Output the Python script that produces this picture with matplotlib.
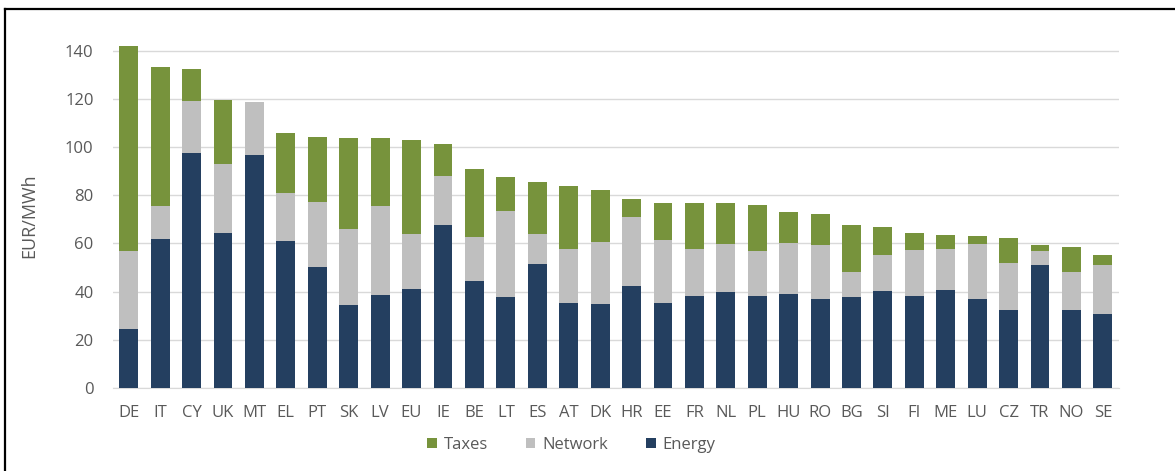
import numpy as np
import matplotlib
matplotlib.use("Agg")
import matplotlib.pyplot as plt
from matplotlib.lines import Line2D

plt.rcParams['font.family'] = ['Open Sans', 'DejaVu Sans']

# data (EUR/MWh)
countries = ["DE", "IT", "CY", "UK", "MT", "EL", "PT", "SK", "LV", "EU", "IE", "BE",
             "LT", "ES", "AT", "DK", "HR", "EE", "FR", "NL", "PL", "HU", "RO", "BG",
             "SI", "FI", "ME", "LU", "CZ", "TR", "NO", "SE"]
energy = [24.5, 61.9, 97.5, 64.4, 96.6, 61.0, 50.2, 34.4, 38.8, 41.3, 67.5, 44.4,
          37.9, 51.4, 35.4, 34.8, 42.3, 35.4, 38.3, 39.7, 38.3, 39.2, 37.0, 37.6,
          40.1, 38.0, 40.6, 37.0, 32.3, 51.0, 32.3, 30.9]
network = [32.2, 13.7, 21.7, 28.6, 22.0, 19.9, 27.2, 31.7, 36.8, 22.6, 20.3, 18.2,
           35.6, 12.5, 22.4, 26.0, 28.6, 26.2, 19.5, 19.9, 18.7, 20.8, 22.2, 10.6,
           15.1, 19.4, 17.3, 22.7, 19.5, 6.0, 15.9, 20.0]
taxes = [85.4, 57.8, 13.4, 26.6, 0.0, 25.1, 27.0, 37.8, 28.3, 39.1, 13.5, 28.2,
         13.9, 21.7, 26.1, 21.4, 7.5, 15.0, 18.8, 17.0, 18.8, 13.1, 13.1, 19.3,
         11.8, 7.0, 5.7, 3.5, 10.4, 2.2, 10.5, 4.4]

c_energy = "#243f60"
c_network = "#bfbfbf"
c_taxes = "#77933c"
txt = "#595959"

energy = np.array(energy)
network = np.array(network)
taxes = np.array(taxes)
x = np.arange(len(countries))

fig = plt.figure(figsize=(11.75, 4.71), dpi=100)
ax = fig.add_axes([0.0962, 0.1762, 0.8558, 0.7314])

w = 0.6
ax.bar(x, energy, w, color=c_energy, label="Energy", zorder=3)
ax.bar(x, network, w, bottom=energy, color=c_network, label="Network", zorder=3)
ax.bar(x, taxes, w, bottom=energy + network, color=c_taxes, label="Taxes", zorder=3)

ax.set_xlim(-0.5, len(countries) - 0.5)
ax.set_ylim(0, 143)
ax.set_yticks(range(0, 141, 20))
ax.set_xticks(x)
ax.set_xticklabels(countries)
ax.yaxis.grid(True, color="#d9d9d9", linewidth=1, zorder=0)
ax.set_axisbelow(True)
for s in ["top", "right", "left"]:
    ax.spines[s].set_visible(False)
ax.spines["bottom"].set_color("#d9d9d9")
ax.tick_params(axis="both", length=0, colors=txt, labelsize=12)
ax.tick_params(axis="y", pad=14)
ax.tick_params(axis="x", pad=12)
ax.set_ylabel("EUR/MWh", color=txt, fontsize=13, labelpad=19)

h, l = ax.get_legend_handles_labels()
order = [2, 1, 0]
fig.legend([h[i] for i in order], [l[i] for i in order], loc="center",
           bbox_to_anchor=(0.4864, 0.055), ncol=3, frameon=False,
           fontsize=12, labelcolor=txt, handlelength=0.55, handleheight=0.55,
           handletextpad=0.42, columnspacing=2.3)

# frame of the screenshot: top and left edges only
fig.lines.append(Line2D([0.0045, 1.0], [0.981, 0.981], transform=fig.transFigure,
                        color="black", linewidth=1.6))
fig.lines.append(Line2D([0.0045, 0.0045], [0.0, 0.981], transform=fig.transFigure,
                        color="black", linewidth=1.6))

fig.savefig("out.png", dpi=100)
